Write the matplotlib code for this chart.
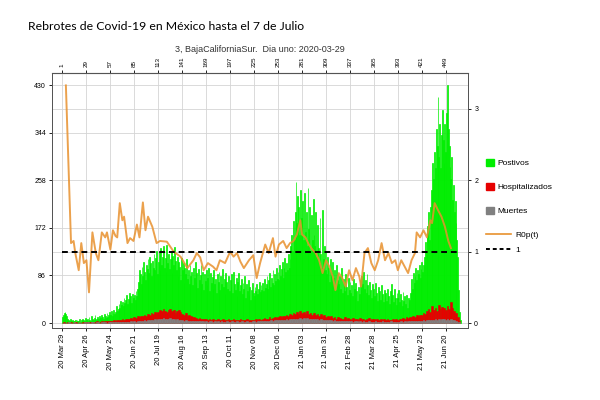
import numpy as np
import pandas as pd
import matplotlib
matplotlib.use("Agg")
import matplotlib.pyplot as plt
from matplotlib.patches import Patch
from matplotlib.lines import Line2D


TITLE = "Rebrotes de Covid-19 en México hasta el 7 de Julio"
SUBTITLE = "3, BajaCaliforniaSur.  Dia uno: 2020-03-29"
START = "2020-03-29"

# daily positives (day 1 .. 466)
POSITIVOS = [
    10, 14, 18, 20, 16, 12, 8, 6, 4, 8, 5, 3, 6, 4,
    3, 5, 2, 6, 4, 3, 7, 2, 5, 8, 3, 6, 4, 9,
    5, 8, 4, 10, 6, 3, 12, 7, 5, 9, 14, 6, 8, 11,
    7, 13, 9, 6, 15, 10, 8, 16, 12, 9, 18, 11, 14, 20,
    15, 22, 13, 18, 24, 16, 20, 30, 22, 26, 35, 28, 40, 32,
    38, 30, 45, 36, 42, 50, 34, 44, 55, 40, 48, 36, 52, 46,
    50, 42, 58, 48, 62, 75, 95, 88, 70, 102, 85, 110, 92, 78,
    105, 98, 115, 90, 120, 108, 85, 112, 100, 125, 95, 118, 130, 88,
    110, 128, 96, 135, 105, 120, 140, 100, 118, 92, 141, 108, 125, 97,
    115, 130, 90, 122, 105, 138, 112, 95, 120, 85, 110, 102, 78, 118,
    95, 108, 72, 100, 88, 115, 80, 96, 70, 105, 85, 92, 68, 99,
    82, 110, 75, 90, 64, 98, 78, 86, 105, 70, 92, 60, 88, 76,
    95, 68, 82, 100, 58, 90, 72, 84, 62, 96, 70, 80, 55, 88,
    75, 92, 60, 85, 70, 98, 66, 80, 52, 90, 74, 62, 85, 58,
    78, 65, 88, 55, 92, 70, 60, 82, 48, 75, 90, 58, 68, 80,
    52, 72, 62, 85, 45, 70, 58, 78, 50, 66, 42, 60, 72, 55,
    48, 65, 58, 70, 52, 62, 75, 56, 68, 60, 72, 58, 80, 64,
    70, 85, 62, 78, 90, 66, 82, 72, 95, 68, 88, 76, 100, 80,
    92, 78, 105, 85, 98, 110, 82, 100, 118, 92, 108, 95, 125, 100,
    115, 140, 160, 130, 185, 150, 200, 255, 180, 230, 210, 160, 240, 190,
    175, 220, 150, 235, 165, 200, 140, 244, 170, 210, 130, 195, 150, 225,
    160, 140, 200, 120, 178, 135, 110, 190, 125, 100, 205, 115, 140, 95,
    130, 88, 120, 100, 75, 115, 90, 68, 110, 82, 95, 60, 105, 78,
    90, 70, 85, 62, 100, 55, 80, 72, 58, 88, 65, 50, 82, 60,
    75, 55, 68, 48, 80, 62, 45, 72, 58, 40, 65, 52, 78, 60,
    85, 70, 92, 62, 78, 55, 88, 68, 50, 75, 60, 45, 70, 55,
    62, 48, 72, 55, 40, 65, 50, 58, 42, 68, 52, 38, 60, 45,
    55, 40, 62, 48, 35, 58, 44, 70, 50, 38, 62, 46, 32, 55,
    45, 60, 38, 52, 42, 30, 56, 40, 48, 35, 50, 28, 45, 38,
    42, 55, 80, 62, 90, 72, 85, 100, 78, 95, 88, 105, 82, 98,
    110, 92, 105, 120, 146, 130, 160, 175, 200, 150, 210, 240, 230, 290,
    260, 310, 280, 350, 320, 408, 300, 360, 280, 340, 385, 330, 290, 360,
    310, 380, 430, 350, 320, 282, 260, 300, 222, 250, 200, 220, 180, 150,
    120, 60, 20, 5,
]

# hospitalised and deaths, one value per two days
HOSPITALIZADOS = [
    0, 1, 0, 1, 0, 1, 0, 1, 1, 0, 1, 0, 2, 1,
    1, 2, 1, 2, 1, 2, 3, 2, 2, 3, 2, 3, 4, 3,
    3, 4, 5, 4, 5, 6, 5, 7, 6, 8, 7, 8, 9, 8,
    10, 9, 12, 11, 13, 12, 15, 13, 16, 15, 18, 16, 20, 18,
    20, 24, 21, 25, 22, 20, 24, 26, 21, 23, 19, 22, 24, 20,
    17, 15, 18, 13, 14, 12, 11, 10, 9, 8, 9, 7, 8, 7,
    7, 6, 8, 6, 7, 5, 6, 7, 5, 6, 8, 6, 5, 7,
    6, 5, 7, 6, 5, 6, 7, 5, 6, 5, 7, 6, 5, 6,
    6, 7, 5, 8, 6, 7, 9, 7, 8, 10, 8, 9, 11, 9,
    10, 12, 11, 13, 12, 14, 13, 16, 15, 18, 16, 20, 17, 22,
    18, 20, 16, 21, 17, 19, 15, 18, 14, 17, 13, 16, 12, 14,
    11, 13, 10, 12, 9, 11, 8, 10, 9, 7, 8, 10, 7, 9,
    8, 6, 9, 7, 8, 6, 9, 7, 8, 6, 7, 9, 6, 8,
    7, 6, 8, 5, 7, 6, 8, 6, 7, 5, 6, 8, 6, 7,
    6, 8, 7, 9, 8, 10, 9, 11, 10, 12, 11, 14, 12, 15,
    14, 18, 16, 22, 26, 20, 30, 24, 28, 22, 32, 25, 29, 27,
    24, 30, 26, 38, 28, 22, 18, 10, 3,
]

MUERTES = [
    0, 0, 0, 0, 1, 0, 0, 1, 0, 0, 1, 0, 0, 1,
    0, 1, 0, 1, 1, 0, 1, 1, 0, 1, 1, 1, 0, 1,
    1, 1, 2, 1, 1, 2, 1, 2, 2, 1, 2, 2, 3, 2,
    3, 2, 3, 4, 3, 4, 5, 4, 5, 6, 5, 6, 7, 6,
    7, 8, 7, 9, 8, 7, 8, 9, 7, 8, 6, 7, 6, 5,
    5, 4, 5, 4, 3, 4, 3, 4, 3, 3, 4, 3, 3, 2,
    3, 2, 3, 3, 2, 3, 2, 3, 2, 3, 2, 2, 3, 2,
    2, 3, 2, 2, 3, 2, 2, 3, 2, 2, 3, 2, 2, 3,
    3, 2, 3, 3, 4, 3, 4, 4, 3, 4, 5, 4, 5, 5,
    5, 6, 5, 6, 6, 7, 6, 7, 7, 8, 7, 8, 8, 9,
    8, 9, 8, 9, 8, 8, 7, 8, 7, 7, 6, 7, 6, 6,
    5, 6, 5, 5, 4, 5, 4, 4, 4, 3, 4, 3, 3, 4,
    3, 3, 2, 3, 3, 2, 3, 2, 3, 2, 2, 3, 2, 2,
    2, 3, 2, 2, 2, 3, 2, 2, 2, 2, 3, 2, 2, 2,
    2, 2, 3, 2, 3, 2, 3, 3, 3, 3, 4, 3, 4, 4,
    4, 5, 4, 5, 6, 5, 6, 6, 7, 6, 7, 6, 7, 7,
    6, 7, 6, 7, 5, 5, 4, 2, 1,
]

# R0p(t), read at the line's corners
R0_DAYS = [
    5, 11, 14, 16, 20, 23, 26, 29, 32, 36, 40, 43, 47, 51, 53, 57, 60, 63,
    65, 68, 71, 73, 77, 80, 84, 88, 91, 95, 98, 101, 106, 111, 115, 123,
    131, 139, 147, 154, 158, 162, 166, 171, 177, 181, 185, 191, 197, 201,
    205, 209, 213, 219, 224, 228, 232, 238, 242, 247, 250, 254, 259, 263,
    267, 271, 275, 279, 281, 285, 289, 293, 297, 301, 305, 309, 313, 317,
    320, 324, 328, 332, 336, 340, 344, 348, 350, 354, 358, 362, 366, 370,
    374, 378, 382, 386, 390, 393, 397, 401, 405, 409, 413, 415, 419, 423,
    427, 431, 433, 436, 440, 444, 448, 452, 455,
]
R0_VALUES = [
    3.33, 1.12, 1.15, 0.98, 0.74, 1.12, 0.84, 0.88, 0.43, 1.27, 0.98, 0.88,
    1.27, 1.20, 1.27, 1.03, 1.30, 1.22, 1.20, 1.68, 1.44, 1.49, 1.12, 1.19,
    1.15, 1.38, 1.20, 1.69, 1.30, 1.49, 1.35, 1.12, 1.15, 1.14, 1.00, 0.93,
    0.77, 0.88, 0.98, 0.92, 0.74, 0.84, 0.79, 0.74, 0.88, 0.84, 1.00, 0.93,
    0.98, 0.86, 0.77, 0.88, 0.95, 0.63, 0.84, 1.10, 0.98, 1.19, 0.93, 1.10,
    1.15, 1.05, 1.12, 1.15, 1.24, 1.44, 1.24, 1.20, 1.10, 1.03, 0.98, 0.88,
    0.70, 0.88, 0.79, 0.65, 0.46, 0.70, 0.63, 0.51, 0.74, 0.60, 0.77, 0.65,
    0.51, 0.98, 1.05, 0.84, 0.74, 0.88, 1.12, 0.88, 0.98, 0.84, 0.88, 0.74,
    0.88, 0.79, 0.70, 0.88, 0.98, 1.27, 1.20, 1.30, 1.20, 1.44, 1.40, 1.68,
    1.58, 1.49, 1.35, 1.15, 1.05,
]

TICK_DAYS = list(range(1, 450, 28))
LEFT_TICKS = [0, 86, 172, 258, 344, 430]
RIGHT_TICKS = [0, 1, 2, 3]

GREEN = "#00ee00"
RED = "#e60000"
GREY = "#808080"
ORANGE = "#e8912e"

K = 129.0  # left units per right unit


days = np.arange(1, len(POSITIVOS) + 1)
days2 = 1 + 2 * np.arange(len(HOSPITALIZADOS))

start = pd.Timestamp(START)
date_labels = [
    (start + pd.Timedelta(days=d - 1)).strftime("%y %b %d")
    for d in TICK_DAYS
]

fig = plt.figure(figsize=(6, 4), dpi=100)
ax = fig.add_axes([0.087, 0.18, 0.693, 0.6375])

# edge in the same colour so neighbouring bars do not leave white seams
ax.bar(days, POSITIVOS, width=1.0, color=GREEN, edgecolor=GREEN,
       linewidth=0.5, zorder=2)
ax.bar(days2, HOSPITALIZADOS, width=2.0, color=RED, edgecolor=RED,
       linewidth=0.4, zorder=3)
ax.bar(days2, MUERTES, width=2.0, color=GREY, edgecolor=GREY,
       linewidth=0.4, zorder=4)

ax.set_xlim(-11, 475)
ax.set_ylim(-9, 452)

ax.set_xticks(TICK_DAYS)
ax.set_xticklabels(date_labels, rotation=90, fontsize=5.5,
                   family="Liberation Sans")
ax.set_yticks(LEFT_TICKS)
ax.set_yticklabels([str(v) for v in LEFT_TICKS], fontsize=5,
                   family="Liberation Sans")
ax.set_yticks([K * r for r in RIGHT_TICKS[1:]], minor=True)
ax.tick_params(axis="y", which="minor", length=0)
ax.tick_params(axis="both", which="major", length=2.5, width=0.6, pad=2)
ax.grid(True, which="both", color="#d4d4d4", linewidth=0.6, zorder=0)
ax.set_axisbelow(True)

top = ax.secondary_xaxis("top")
top.set_xticks(TICK_DAYS)
top.set_xticklabels([str(d) for d in TICK_DAYS], rotation=90, fontsize=4.5,
                    family="Liberation Sans")
top.tick_params(length=2.5, width=0.6, pad=2)

ax2 = ax.twinx()
ax2.plot(R0_DAYS, R0_VALUES, color=ORANGE, linewidth=1.4, alpha=0.85, zorder=5)
ax2.plot([days[0], days[-1]], [1, 1], color="black", linestyle="--",
         linewidth=1.4, dashes=(3, 2), zorder=6)
ax2.set_ylim(-9 / K, 452 / K)
ax2.set_yticks(RIGHT_TICKS)
ax2.set_yticklabels([str(v) for v in RIGHT_TICKS], fontsize=5,
                    family="Liberation Sans")
ax2.tick_params(length=2.5, width=0.6, pad=2)

for a in (ax, ax2):
    for s in a.spines.values():
        s.set_color("#555555")
        s.set_linewidth(0.7)

fig.text(28 / 600, 1 - 26 / 400, TITLE, fontsize=8.8, family="Lato",
         va="center", ha="left")
fig.text(0.433, 1 - 50 / 400, SUBTITLE, fontsize=6.5, family="Liberation Sans",
         va="center", ha="center", color="#333333")

patch_handles = [
    Patch(color=GREEN, label="Postivos"),
    Patch(color=RED, label="Hospitalizados"),
    Patch(color=GREY, label="Muertes"),
]
line_handles = [
    Line2D([], [], color=ORANGE, linewidth=1.2, label="R0p(t)"),
    Line2D([], [], color="black", linestyle="--", dashes=(2, 1.5),
           linewidth=1.4, label="1"),
]
leg1 = fig.legend(handles=patch_handles, loc="upper left",
                  bbox_to_anchor=(0.797, 0.622), frameon=False,
                  prop={"family": "Liberation Sans", "size": 6},
                  handlelength=1.0, handleheight=1.0, labelspacing=1.85,
                  handletextpad=0.4)
leg2 = fig.legend(handles=line_handles, loc="upper left",
                  bbox_to_anchor=(0.797, 0.44), frameon=False,
                  prop={"family": "Liberation Sans", "size": 6},
                  handlelength=3.0, labelspacing=0.85, handletextpad=0.6)

fig.savefig("out.png", dpi=100)
